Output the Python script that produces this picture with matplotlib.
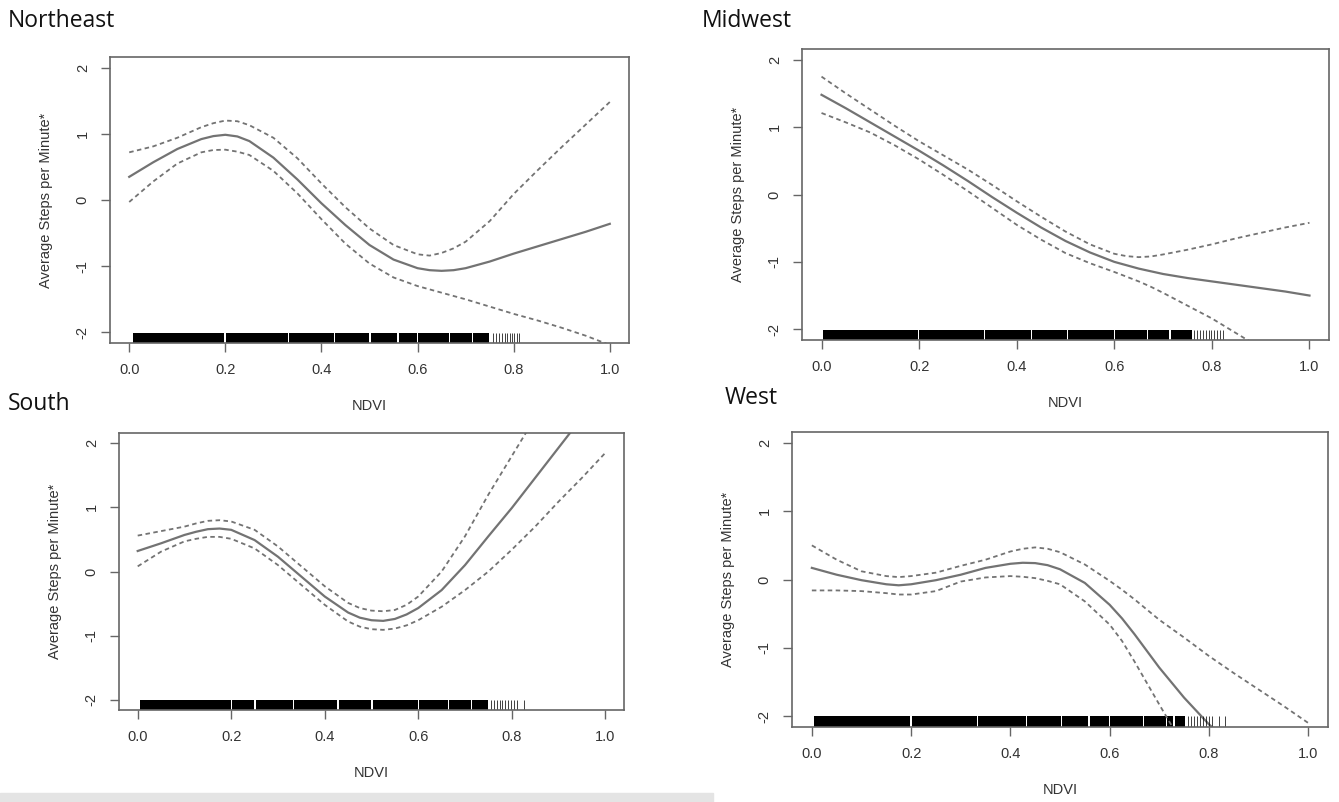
import matplotlib.pyplot as plt
from matplotlib.patches import Rectangle

plt.rcParams['font.family'] = ['Liberation Sans', 'DejaVu Sans']
plt.rcParams['axes.unicode_minus'] = False

W, H = 1339, 802

# Northeast
ne_x = [0.00, 0.05, 0.10, 0.15, 0.175, 0.20, 0.225, 0.25, 0.30, 0.35, 0.40, 0.45, 0.50,
        0.55, 0.60, 0.625, 0.65, 0.675, 0.70, 0.75, 0.80, 0.85, 0.90, 0.95, 1.00]
ne_fit = [0.35, 0.57, 0.77, 0.92, 0.965, 0.985, 0.96, 0.89, 0.64, 0.31, -0.05, -0.38, -0.68,
          -0.90, -1.03, -1.06, -1.07, -1.06, -1.03, -0.93, -0.81, -0.70, -0.59, -0.48, -0.36]
ne_up = [0.72, 0.81, 0.94, 1.10, 1.16, 1.20, 1.19, 1.13, 0.94, 0.63, 0.25, -0.11, -0.43,
         -0.68, -0.82, -0.84, -0.80, -0.73, -0.63, -0.32, 0.09, 0.45, 0.80, 1.14, 1.48]
ne_lo = [-0.03, 0.28, 0.55, 0.72, 0.755, 0.76, 0.73, 0.68, 0.44, 0.10, -0.29, -0.66, -0.96,
         -1.17, -1.30, -1.35, -1.40, -1.45, -1.50, -1.61, -1.72, -1.82, -1.93, -2.05, -2.19]

# Midwest
mw_x = [0.00, 0.05, 0.10, 0.15, 0.20, 0.25, 0.30, 0.35, 0.40, 0.45, 0.50,
        0.55, 0.60, 0.625, 0.65, 0.675, 0.70, 0.75, 0.80, 0.85, 0.90, 0.95, 1.00]
mw_fit = [1.48, 1.28, 1.07, 0.86, 0.65, 0.43, 0.20, -0.04, -0.27, -0.49, -0.69,
          -0.86, -1.00, -1.05, -1.10, -1.14, -1.18, -1.24, -1.29, -1.34, -1.39, -1.44, -1.50]
mw_up = [1.75, 1.50, 1.26, 1.02, 0.79, 0.58, 0.37, 0.14, -0.10, -0.33, -0.55,
         -0.74, -0.88, -0.915, -0.93, -0.92, -0.89, -0.82, -0.74, -0.65, -0.57, -0.49, -0.42]
mw_lo = [1.21, 1.07, 0.92, 0.73, 0.52, 0.29, 0.05, -0.20, -0.45, -0.67, -0.87,
         -1.02, -1.15, -1.22, -1.29, -1.37, -1.46, -1.65, -1.84, -2.06, -2.28, -2.50, -2.72]

# South
s_x = [0.00, 0.05, 0.10, 0.125, 0.15, 0.175, 0.20, 0.25, 0.30, 0.35, 0.40, 0.45, 0.475,
       0.50, 0.525, 0.55, 0.575, 0.60, 0.65, 0.70, 0.75, 0.80, 0.85, 0.90, 0.95, 1.00]
s_fit = [0.32, 0.44, 0.57, 0.62, 0.66, 0.67, 0.65, 0.49, 0.23, -0.08, -0.39, -0.64, -0.72,
         -0.76, -0.77, -0.74, -0.67, -0.57, -0.29, 0.10, 0.55, 0.99, 1.46, 1.93, 2.40, 2.87]
s_up = [0.56, 0.63, 0.70, 0.75, 0.79, 0.80, 0.78, 0.65, 0.39, 0.08, -0.23, -0.49, -0.57,
        -0.61, -0.62, -0.60, -0.52, -0.39, 0.00, 0.55, 1.20, 1.80, 2.40, 3.00, 3.60, 4.20]
s_lo = [0.08, 0.31, 0.47, 0.51, 0.54, 0.54, 0.51, 0.36, 0.10, -0.21, -0.52, -0.78, -0.86,
        -0.90, -0.91, -0.89, -0.84, -0.76, -0.55, -0.29, 0.00, 0.34, 0.70, 1.09, 1.46, 1.85]

# West
w_x = [0.00, 0.05, 0.10, 0.15, 0.175, 0.20, 0.25, 0.30, 0.35, 0.40, 0.425, 0.45, 0.475,
       0.50, 0.55, 0.60, 0.625, 0.65, 0.70, 0.75, 0.80, 0.85, 0.90, 0.95, 1.00]
w_fit = [0.17, 0.07, -0.01, -0.07, -0.085, -0.07, -0.01, 0.07, 0.17, 0.23, 0.245, 0.24, 0.21,
         0.15, -0.05, -0.37, -0.57, -0.80, -1.29, -1.73, -2.12, -2.45, -2.80, -3.10, -3.40]
w_up = [0.50, 0.29, 0.12, 0.05, 0.035, 0.05, 0.10, 0.20, 0.29, 0.41, 0.45, 0.47, 0.45,
        0.40, 0.22, -0.02, -0.15, -0.29, -0.59, -0.85, -1.12, -1.37, -1.61, -1.85, -2.10]
w_lo = [-0.16, -0.16, -0.17, -0.20, -0.22, -0.22, -0.17, -0.03, 0.03, 0.05, 0.04, 0.02, -0.02,
        -0.07, -0.32, -0.66, -0.90, -1.20, -1.83, -2.45, -3.00, -3.50, -4.00, -4.50, -5.00]

# rug: dense band with thin gaps, then sparse single ticks
ne_rug = dict(start=0.006, end=0.755,
              gaps=[0.199, 0.332, 0.427, 0.501, 0.559, 0.600, 0.666, 0.714, 0.751],
              ticks=[0.758, 0.764, 0.770, 0.776, 0.782, 0.787, 0.792, 0.797, 0.801, 0.806, 0.811])
mw_rug = dict(start=0.002, end=0.760,
              gaps=[0.199, 0.334, 0.430, 0.504, 0.600, 0.668, 0.714],
              ticks=[0.764, 0.770, 0.776, 0.782, 0.788, 0.794, 0.799, 0.804, 0.810, 0.816, 0.822])
s_rug = dict(start=0.003, end=0.750,
             gaps=[0.200, 0.251, 0.333, 0.428, 0.501, 0.600, 0.665, 0.714],
             ticks=[0.755, 0.762, 0.768, 0.774, 0.780, 0.786, 0.792, 0.798, 0.804, 0.812, 0.826])
w_rug = dict(start=0.002, end=0.754,
             gaps=[0.200, 0.334, 0.432, 0.503, 0.558, 0.600, 0.668, 0.715, 0.730],
             ticks=[0.758, 0.764, 0.770, 0.776, 0.782, 0.788, 0.794, 0.800, 0.806, 0.820, 0.832])

xticks = [0.0, 0.2, 0.4, 0.6, 0.8, 1.0]
xticklabels = ['0.0', '0.2', '0.4', '0.6', '0.8', '1.0']
yticks = [-2, -1, 0, 1, 2]
yticklabels = ['-2', '-1', '0', '1', '2']

panels = [
    # title, title pos (px), axes box (left, top, right, bottom px), curves, rug
    ('Northeast', (8, 21), (110, 57, 629, 343), ne_x, ne_fit, ne_up, ne_lo, ne_rug),
    ('Midwest', (702, 21), (802, 49, 1329, 340), mw_x, mw_fit, mw_up, mw_lo, mw_rug),
    ('South', (8, 404), (119, 433, 624, 710), s_x, s_fit, s_up, s_lo, s_rug),
    ('West', (725, 398), (792, 432, 1328, 727), w_x, w_fit, w_up, w_lo, w_rug),
]

line_col = '#737373'
box_col = '#666666'
txt_col = '#333333'

fig = plt.figure(figsize=(W / 100, H / 100), dpi=100)
fig.patches.append(Rectangle((0, 0), 713 / W, 9 / H, transform=fig.transFigure,
                             color='#e4e4e4', zorder=0))

for title, (tx, ty), (l, t, r, b), xs, fit, up, lo, rug in panels:
    ax = fig.add_axes([l / W, 1 - b / H, (r - l) / W, (b - t) / H])
    ax.plot(xs, fit, color=line_col, lw=1.6, solid_joinstyle='round')
    for band in (up, lo):
        ax.plot(xs, band, color=line_col, lw=1.3, dashes=(2.5, 1.9))

    # rug
    edges = [rug['start']] + rug['gaps'] + [rug['end']]
    for a, bb in zip(edges[:-1], edges[1:]):
        ax.axvspan(a + 0.0015, bb - 0.0015, ymin=0, ymax=0.036, color='black', lw=0)
    ax.vlines(rug['ticks'], 0, 0.036, transform=ax.get_xaxis_transform(),
              color='black', lw=0.7, alpha=0.75)

    ax.set_xlim(-0.04, 1.04)
    ax.set_ylim(-2.16, 2.16)
    ax.set_xticks(xticks)
    ax.set_xticklabels(xticklabels)
    ax.set_yticks(yticks)
    ax.set_yticklabels(yticklabels, rotation=90, va='center')
    ax.tick_params(direction='out', length=6.5, width=1.0, color=box_col,
                   labelsize=10.5, labelcolor=txt_col, pad=8)
    for sp in ax.spines.values():
        sp.set_color(box_col)
        sp.set_linewidth(1.2)

    ax.set_xlabel('NDVI', fontsize=10.5, color=txt_col)
    ax.set_ylabel('Average Steps per Minute*', fontsize=10.5, color=txt_col)
    ax.xaxis.set_label_coords(0.5, -63 / (b - t))
    ax.xaxis.label.set_va('center')
    ax.yaxis.set_label_coords(-64 / (r - l), 0.5)
    ax.yaxis.label.set_va('center')

    fig.text(tx / W, 1 - ty / H, title, ha='left', va='center', fontsize=16.5,
             family=['Open Sans', 'DejaVu Sans'], color='#111111')

fig.savefig('out.png', dpi=100)
